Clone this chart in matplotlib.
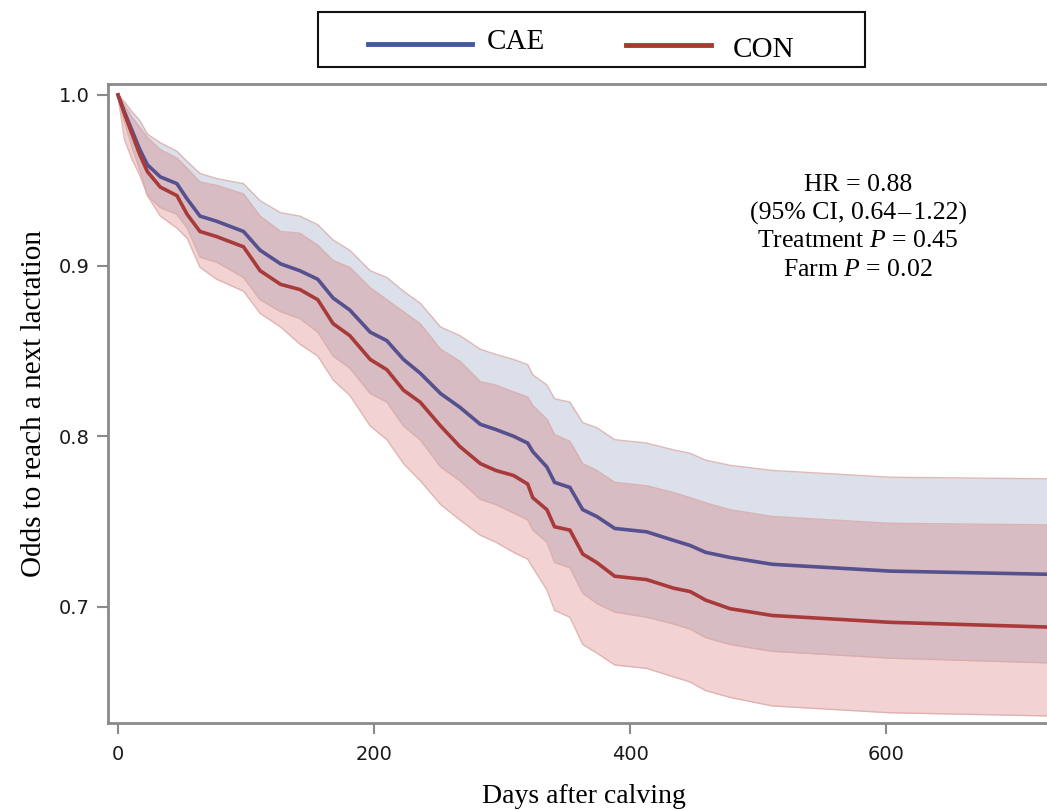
"""Kaplan-Meier style curves: odds to reach a next lactation, CAE vs CON."""

import matplotlib
matplotlib.use("Agg")
import matplotlib.pyplot as plt
from matplotlib.lines import Line2D
from matplotlib.patches import Rectangle

# days after calving (common grid for all curves)
days = [0, 5, 11, 17, 23, 33, 46, 54, 64, 77, 98, 111, 127, 142, 156, 168, 181,
        197, 210, 223, 236, 252, 267, 283, 295, 309, 320, 324, 335, 341, 353, 363,
        374, 388, 413, 434, 447, 459, 478, 511, 603, 736]

cae_surv = [1.000, 0.990, 0.979, 0.968, 0.959, 0.952, 0.948, 0.939, 0.929, 0.926,
            0.920, 0.909, 0.901, 0.897, 0.892, 0.881, 0.874, 0.861, 0.856, 0.845,
            0.837, 0.825, 0.817, 0.807, 0.804, 0.800, 0.796, 0.791, 0.782, 0.773,
            0.770, 0.757, 0.753, 0.746, 0.744, 0.739, 0.736, 0.732, 0.729, 0.725,
            0.721, 0.719]
cae_hi = [1.000, 0.996, 0.990, 0.985, 0.977, 0.972, 0.967, 0.961, 0.954, 0.951,
          0.948, 0.938, 0.931, 0.929, 0.924, 0.915, 0.909, 0.897, 0.893, 0.885,
          0.878, 0.864, 0.859, 0.851, 0.848, 0.845, 0.842, 0.836, 0.830, 0.822,
          0.820, 0.808, 0.805, 0.798, 0.796, 0.792, 0.790, 0.786, 0.783, 0.780,
          0.776, 0.775]
cae_lo = [0.999, 0.984, 0.969, 0.956, 0.941, 0.934, 0.930, 0.922, 0.905, 0.902,
          0.893, 0.880, 0.873, 0.869, 0.861, 0.847, 0.840, 0.825, 0.820, 0.806,
          0.798, 0.782, 0.774, 0.763, 0.760, 0.755, 0.751, 0.745, 0.738, 0.726,
          0.723, 0.708, 0.702, 0.697, 0.694, 0.690, 0.687, 0.682, 0.678, 0.674,
          0.670, 0.667]

con_surv = [1.000, 0.989, 0.977, 0.965, 0.955, 0.946, 0.941, 0.930, 0.920, 0.917,
            0.911, 0.897, 0.889, 0.886, 0.880, 0.866, 0.859, 0.845, 0.839, 0.827,
            0.820, 0.806, 0.794, 0.784, 0.780, 0.777, 0.772, 0.764, 0.757, 0.747,
            0.745, 0.731, 0.726, 0.718, 0.716, 0.711, 0.709, 0.704, 0.699, 0.695,
            0.691, 0.688]
con_hi = [1.000, 0.994, 0.987, 0.981, 0.975, 0.968, 0.963, 0.957, 0.949, 0.947,
          0.942, 0.929, 0.920, 0.919, 0.912, 0.903, 0.899, 0.887, 0.880, 0.873,
          0.866, 0.851, 0.844, 0.832, 0.830, 0.826, 0.823, 0.818, 0.810, 0.801,
          0.797, 0.784, 0.780, 0.773, 0.771, 0.767, 0.764, 0.761, 0.757, 0.753,
          0.749, 0.748]
con_lo = [0.999, 0.974, 0.962, 0.953, 0.941, 0.929, 0.922, 0.916, 0.899, 0.892,
          0.885, 0.872, 0.864, 0.854, 0.847, 0.833, 0.824, 0.806, 0.798, 0.784,
          0.774, 0.760, 0.751, 0.742, 0.738, 0.732, 0.728, 0.723, 0.710, 0.698,
          0.694, 0.678, 0.673, 0.666, 0.664, 0.659, 0.656, 0.651, 0.647, 0.642,
          0.638, 0.636]

groups = ["CAE", "CON"]
x_ticks = [0, 200, 400, 600]
y_ticks = [0.7, 0.8, 0.9, 1.0]
stats_lines = ["HR = 0.88", "(95% CI, 0.64\u200a\u2013\u200a1.22)",
               "Treatment $P$ = 0.45", "Farm $P$ = 0.02"]

SERIF = "Liberation Serif"
plt.rcParams["mathtext.fontset"] = "custom"
plt.rcParams["mathtext.rm"] = SERIF
plt.rcParams["mathtext.it"] = SERIF + ":italic"

fig = plt.figure(figsize=(10.47, 8.10), dpi=100)
ax = fig.add_axes([0.1032, 0.1074, 0.9093, 0.7889])

# confidence bands
ax.fill_between(days, cae_lo, cae_hi, color=(0.54, 0.60, 0.73), alpha=0.3, lw=0)
ax.fill_between(days, con_lo, con_hi, color=(0.83, 0.42, 0.42), alpha=0.3, lw=0)
for band in (cae_lo, cae_hi, con_lo, con_hi):
    ax.plot(days, band, color="#d9a9a6", lw=1.0, alpha=0.8)

ax.plot(days, cae_surv, color="#55508e", lw=2.6, solid_joinstyle="miter")
ax.plot(days, con_surv, color="#a83a3a", lw=2.6, solid_joinstyle="miter")

ax.set_xlim(-7.8, 735.9)
ax.set_ylim(0.632, 1.0064)
ax.set_xticks(x_ticks)
ax.set_yticks(y_ticks)
ax.set_yticklabels([f"{v:.1f}" for v in y_ticks])
ax.tick_params(direction="out", length=8, width=1.5, color="#8a8a8a",
               labelsize=14, labelcolor="#1a1a1a", pad=5)
ax.tick_params(axis="x", pad=8)
for side in ("left", "bottom", "top", "right"):
    ax.spines[side].set_color("#8a8a8a")
    ax.spines[side].set_linewidth(2)

ax.set_xlabel("Days after calving", family=SERIF, fontsize=20, labelpad=14)
ax.set_ylabel("Odds to reach a next lactation", family=SERIF, fontsize=21, labelpad=9)

# statistics annotation
for txt, yy in zip(stats_lines, [0.7716, 0.737, 0.7025, 0.6667]):
    fig.text(0.8195, yy, txt, family=SERIF, fontsize=18.5, ha="center", va="center")

# legend box drawn at the top of the figure
fig.add_artist(Rectangle((0.3037, 0.9173), 0.5225, 0.0679, transform=fig.transFigure,
                         fill=False, edgecolor="#111111", lw=1.5))
fig.add_artist(Line2D([0.3515, 0.4508], [0.9457, 0.9457], transform=fig.transFigure,
                      color="#4459a2", lw=3.5))
fig.add_artist(Line2D([0.5979, 0.6791], [0.9444, 0.9444], transform=fig.transFigure,
                      color="#a83a30", lw=3.5))
fig.text(0.4651, 0.948, groups[0], family=SERIF, fontsize=21, va="center")
fig.text(0.700, 0.9383, groups[1], family=SERIF, fontsize=21, va="center")

fig.savefig("out.png", dpi=100)
plt.close(fig)
